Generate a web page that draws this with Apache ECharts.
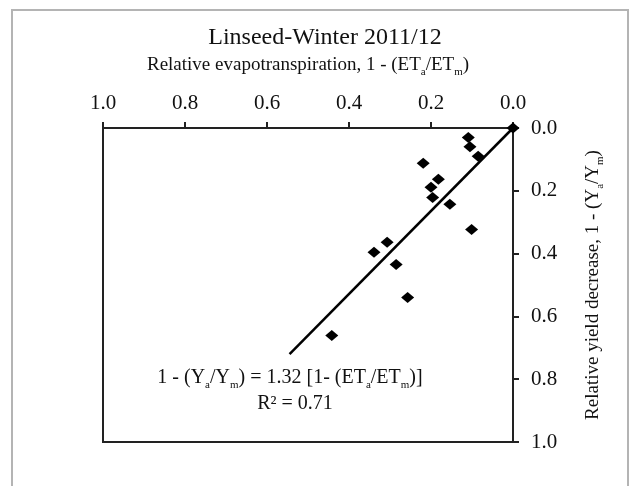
<!DOCTYPE html>
<html>
<head>
<meta charset="utf-8">
<script src="https://cdn.jsdelivr.net/npm/echarts@6/dist/echarts.min.js"></script>
<style>
    html, body { margin: 0; padding: 0; background: #fff; }
    #chart { width: 629px; height: 486px; }
    #frame {
        position: absolute; left: 11px; top: 9px; width: 614px; height: 500px;
        border: 2px solid #b4b4b4; border-bottom: none; pointer-events: none;
    }
</style>
</head>
<body>
<div id="chart"></div>
<div id="frame"></div>
<script>
    // Relative ET deficit, 1 - (ETa/ETm)
    const etDeficit = [0, 0.109, 0.105, 0.085, 0.219, 0.182, 0.200, 0.196, 0.154, 0.101, 0.307, 0.339, 0.285, 0.257, 0.442];
    // Relative yield decrease, 1 - (Ya/Ym)
    const yieldDecrease = [0, 0.030, 0.060, 0.090, 0.112, 0.163, 0.189, 0.221, 0.243, 0.323, 0.364, 0.396, 0.435, 0.540, 0.661];
    // fitted line end points (slope 1.32)
    const fitX = [0, 0.545];
    const fitY = [0, 0.72];
    const axisTicks = [0, 0.2, 0.4, 0.6, 0.8, 1.0];

    const font = 'Liberation Serif';
    const ink = '#111';
    const sub = { fontSize: 11, fontFamily: font, color: ink, verticalAlign: 'bottom', padding: [0, 0, -3, 0] };

    const chart = echarts.init(document.getElementById('chart'));

    const points = etDeficit.map(function (x, i) { return [x, yieldDecrease[i]]; });
    const fitLine = fitX.map(function (x, i) { return [x, fitY[i]]; });

    chart.setOption({
        animation: false,
        backgroundColor: '#fff',
        title: [
            {
                text: 'Linseed-Winter 2011/12',
                left: 320, top: 21, textAlign: 'center',
                textStyle: { fontFamily: font, fontSize: 24, fontWeight: 'normal', color: ink }
            },
            {
                text: '1 - (Y{s|a}/Y{s|m}) = 1.32 [1- (ET{s|a}/ET{s|m})]',
                left: 285, top: 363, textAlign: 'center',
                textStyle: { fontFamily: font, fontSize: 20, fontWeight: 'normal', color: ink, rich: { s: sub } }
            },
            {
                text: 'R\u00b2 = 0.71',
                left: 290, top: 389, textAlign: 'center',
                textStyle: { fontFamily: font, fontSize: 20, fontWeight: 'normal', color: ink }
            }
        ],
        grid: {
            left: 103, top: 128, right: 116, bottom: 44,
            show: true, borderColor: '#222', borderWidth: 2, backgroundColor: 'transparent'
        },
        xAxis: {
            type: 'value', position: 'top', inverse: true,
            min: 0, max: 1, interval: 0.2,
            name: 'Relative evapotranspiration, 1 - (ET{s|a}/ET{s|m})',
            nameLocation: 'middle', nameGap: 53,
            nameTextStyle: { fontFamily: font, fontSize: 19, color: ink, rich: { s: sub } },
            axisLine: { show: true, lineStyle: { color: '#222', width: 2 } },
            axisTick: { show: true, inside: false, length: 6, lineStyle: { color: '#222', width: 2 } },
            axisLabel: {
                margin: 14, fontFamily: font, fontSize: 21, color: ink,
                formatter: function (v) { return v.toFixed(1); },
                customValues: axisTicks
            },
            splitLine: { show: false }
        },
        yAxis: {
            type: 'value', position: 'right', inverse: true,
            min: 0, max: 1, interval: 0.2,
            name: 'Relative yield decrease, 1 - (Y{s|a}/Y{s|m})',
            nameLocation: 'middle', nameGap: 71, nameRotate: 90,
            nameTextStyle: { fontFamily: font, fontSize: 19, color: ink, rich: { s: sub } },
            axisLine: { show: true, lineStyle: { color: '#222', width: 2 } },
            axisTick: { show: true, inside: false, length: 6, lineStyle: { color: '#222', width: 2 } },
            axisLabel: {
                margin: 18, fontFamily: font, fontSize: 21, color: ink,
                formatter: function (v) { return v.toFixed(1); }
            },
            splitLine: { show: false }
        },
        series: [
            {
                name: 'fit', type: 'line', data: fitLine,
                symbol: 'none', z: 2,
                lineStyle: { color: '#000', width: 2.5 }
            },
            {
                name: 'observed', type: 'scatter', data: points,
                symbol: 'diamond', symbolSize: [13, 11], z: 3,
                itemStyle: { color: '#000', opacity: 1 }
            }
        ]
    });

    window.addEventListener('resize', function () {
        chart.resize();
    });
</script>
</body>
</html>
